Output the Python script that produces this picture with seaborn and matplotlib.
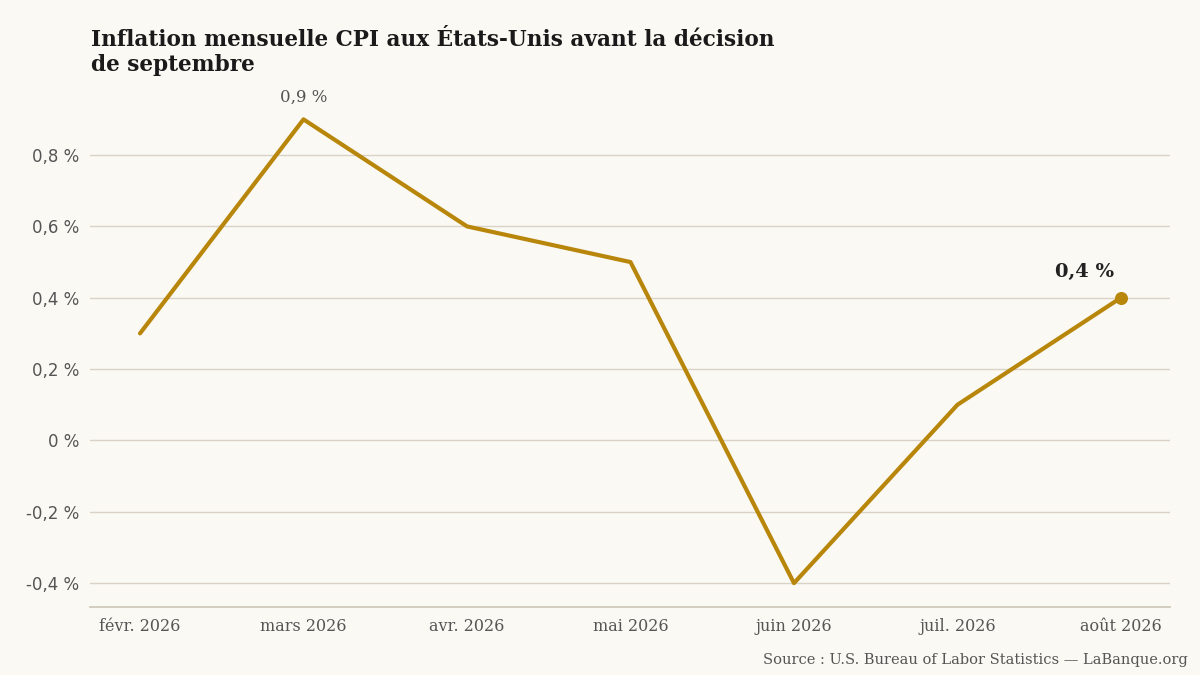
import matplotlib
matplotlib.use("Agg")
import matplotlib.pyplot as plt
import seaborn as sns
import pandas as pd

mois = ["févr. 2026", "mars 2026", "avr. 2026", "mai 2026", "juin 2026", "juil. 2026", "août 2026"]
cpi = [0.3, 0.9, 0.6, 0.5, -0.4, 0.1, 0.4]
yticks = [-0.4, -0.2, 0.0, 0.2, 0.4, 0.6, 0.8]

bg = "#fbf9f3"
gold = "#b8860b"

sns.set_theme(style="white")
plt.rcParams["font.family"] = ["DejaVu Sans"]

df = pd.DataFrame({"x": range(len(mois)), "cpi": cpi})

fig = plt.figure(figsize=(12, 6.75), dpi=100, facecolor=bg)
ax = fig.add_axes([0.075, 0.1007, 0.9, 0.751], facecolor=bg)

sns.lineplot(data=df, x="x", y="cpi", ax=ax, color=gold, linewidth=3)
ax.scatter([df.x.iloc[-1]], [cpi[-1]], color=gold, s=70, zorder=5)

ax.set_xlim(-0.306, 6.3)
ax.set_ylim(-0.467, 0.954)
ax.set_yticks(yticks)
ax.set_yticklabels([("0 %" if v == 0 else f"{v:.1f} %".replace(".", ",")) for v in yticks],
                   color="#555555", fontsize=12)
ax.set_xticks(range(len(mois)))
ax.set_xticklabels(mois, family="DejaVu Serif", color="#555555", fontsize=11.5)
ax.tick_params(axis="both", length=0, pad=8)
ax.grid(axis="y", color="#d9d3c7", linewidth=1)
ax.set_xlabel("")
ax.set_ylabel("")
for s in ["top", "right", "left"]:
    ax.spines[s].set_visible(False)
ax.spines["bottom"].set_color("#cfc8ba")

ax.annotate("0,9 %", (1, cpi[1]), xytext=(0, 10), textcoords="offset points",
            ha="center", va="bottom", family="DejaVu Serif", fontsize=12, color="#555555")
ax.annotate("0,4 %", (6, cpi[-1]), xytext=(-26, 12), textcoords="offset points",
            ha="center", va="bottom", family="DejaVu Serif", fontsize=14,
            fontweight="bold", color="#222222")

fig.text(0.076, 0.888, "Inflation mensuelle CPI aux États-Unis avant la décision\nde septembre",
         family="DejaVu Serif", fontweight="bold", fontsize=15.6, color="#1a1a1a",
         va="bottom", ha="left", linespacing=1.15)
fig.text(0.99, 0.012, "Source : U.S. Bureau of Labor Statistics — LaBanque.org",
         family="DejaVu Serif", fontsize=10.5, color="#555555", ha="right", va="bottom")

fig.savefig("out.png", dpi=100, facecolor=bg)
